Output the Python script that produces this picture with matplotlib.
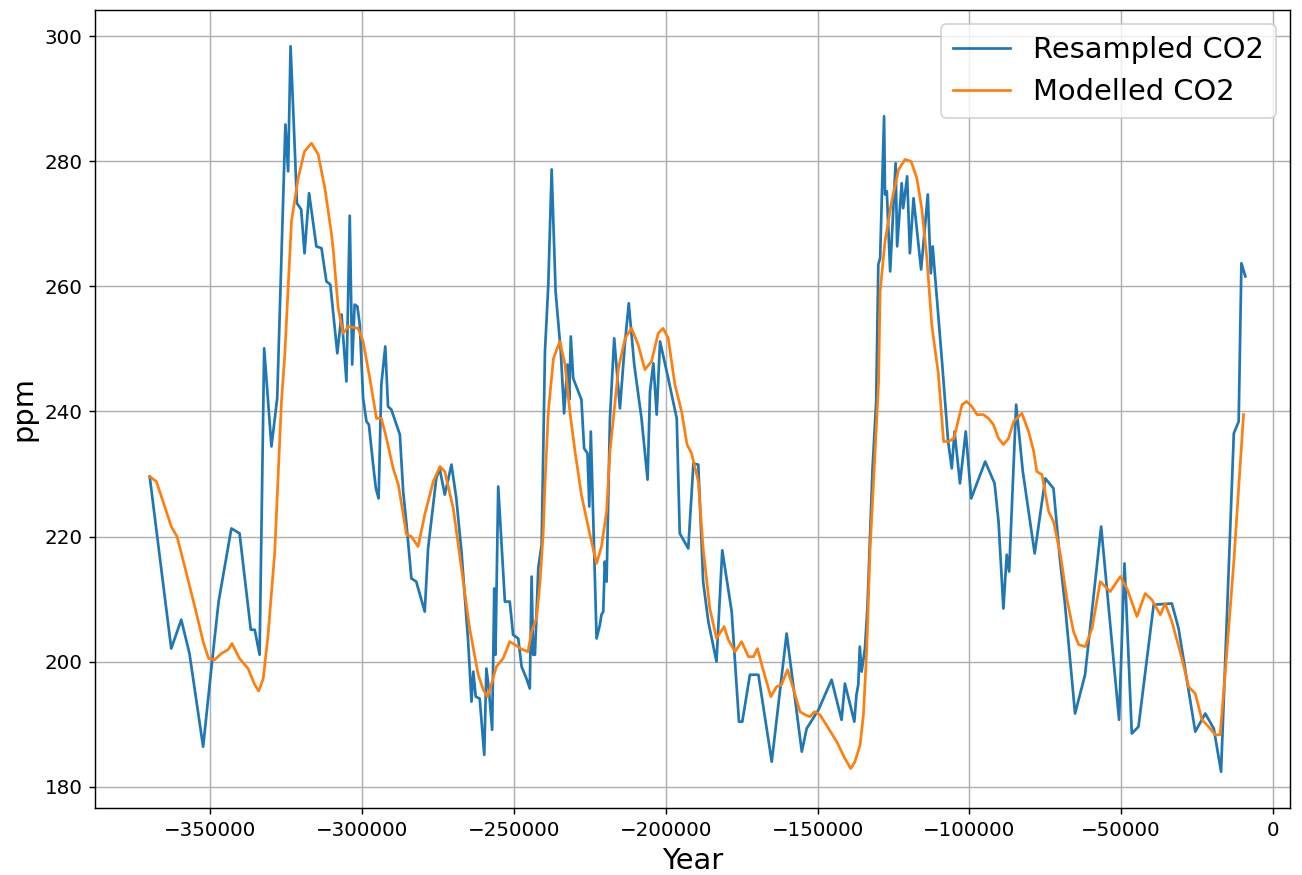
import matplotlib
matplotlib.use("Agg")
import matplotlib.pyplot as plt

# Resampled CO2 (ice core), (year, ppm) pairs.
resampled = [
    (-370000, 229.6), (-362900, 202.1), (-359600, 206.7), (-356900, 201.3), (-352400, 186.4),
    (-349700, 198.9), (-347300, 209.6), (-343100, 221.3), (-340400, 220.5), (-336700, 205.1),
    (-335400, 205.1), (-333800, 201.1), (-332300, 250.1), (-329900, 234.4), (-328000, 242.1),
    (-325300, 285.9), (-324400, 278.4), (-323600, 298.4), (-322800, 289.1), (-321500, 273.3),
    (-320100, 272.3), (-319000, 265.3), (-317500, 274.9), (-315100, 266.4), (-313400, 266.1),
    (-311800, 260.8), (-310500, 260.3), (-308200, 249.3), (-306800, 255.5), (-305200, 244.8),
    (-304100, 271.3), (-303300, 247.5), (-302500, 257.1), (-301600, 256.8), (-300800, 253.9),
    (-299700, 242.1), (-298600, 238.4), (-297800, 237.9), (-296400, 231.5), (-295500, 227.7),
    (-294600, 226.1), (-293700, 244.3), (-292400, 250.4), (-291500, 240.8), (-290400, 240.3),
    (-288700, 237.9), (-287600, 236.3), (-286500, 227.2), (-285400, 221.9), (-283800, 213.3),
    (-282200, 212.8), (-279400, 208.0), (-278300, 218.1), (-275600, 229.3), (-274500, 230.9),
    (-272800, 226.7), (-270600, 231.5), (-269000, 226.1), (-267300, 217.6), (-265100, 203.2),
    (-264000, 193.6), (-263400, 198.4), (-262600, 194.4), (-261300, 194.1), (-259800, 185.1),
    (-259100, 198.9), (-258300, 195.7), (-257200, 189.1), (-256500, 211.7), (-256100, 201.1),
    (-255200, 228.0), (-253600, 214.4), (-253000, 209.6), (-251400, 209.6), (-250300, 204.3),
    (-248600, 203.7), (-247500, 199.2), (-245900, 197.3), (-244800, 195.7), (-244200, 213.6),
    (-243700, 201.1), (-243100, 201.1), (-242000, 215.0), (-240900, 218.7), (-239800, 249.6),
    (-238700, 260.3), (-237600, 278.7), (-236300, 259.2), (-234600, 249.6), (-233500, 239.7),
    (-232400, 247.5), (-231800, 241.9), (-231300, 252.0), (-230500, 245.3), (-227800, 241.9),
    (-226900, 234.1), (-225800, 233.3), (-225200, 224.8), (-224700, 236.8), (-222800, 203.7),
    (-221700, 205.9), (-221200, 207.5), (-220600, 208.0), (-220100, 216.0), (-219500, 212.8),
    (-218400, 238.9), (-217000, 251.7), (-215100, 240.5), (-213500, 250.7), (-212200, 257.3),
    (-210400, 247.5), (-208000, 238.9), (-206000, 229.1), (-205200, 243.2), (-204100, 247.7),
    (-203000, 239.5), (-201900, 251.2), (-199200, 245.3), (-196400, 238.9), (-195400, 220.5),
    (-192600, 218.1), (-190900, 231.7), (-189300, 231.5), (-187700, 212.8), (-186000, 206.4),
    (-183300, 200.0), (-181400, 217.8), (-178300, 208.0), (-175900, 190.4), (-174800, 190.4),
    (-172300, 197.9), (-169500, 197.9), (-165100, 184.0), (-160200, 204.5), (-155200, 185.6),
    (-153600, 189.3), (-149700, 192.3), (-145400, 197.1), (-142100, 190.7), (-141000, 196.5),
    (-137900, 190.4), (-137200, 194.7), (-136600, 196.3), (-136100, 202.4), (-135500, 198.4),
    (-134400, 202.1), (-133600, 208.5), (-132700, 220.3), (-131900, 230.9), (-130700, 241.6),
    (-130000, 263.5), (-129400, 264.5), (-128100, 287.2), (-127800, 274.7), (-127200, 275.2),
    (-126100, 262.4), (-124300, 279.7), (-123800, 266.4), (-122300, 276.5), (-121800, 272.5),
    (-120500, 277.6), (-119600, 265.3), (-118400, 274.1), (-115900, 262.7), (-113700, 274.7),
    (-112700, 262.1), (-112100, 266.4), (-109100, 248.5), (-107000, 235.2), (-105800, 230.9),
    (-104900, 236.8), (-103100, 228.5), (-101200, 236.8), (-99400, 226.1), (-94800, 232.0),
    (-91700, 228.5), (-90400, 222.4), (-88800, 208.5), (-87700, 217.1), (-86900, 214.4),
    (-84600, 241.1), (-82400, 230.4), (-78500, 217.3), (-75000, 229.3), (-72300, 227.7),
    (-70200, 216.5), (-68500, 209.1), (-65200, 191.7), (-61900, 197.9), (-56600, 221.6),
    (-50700, 190.7), (-48900, 215.7), (-46500, 188.5), (-44300, 189.6), (-39300, 209.1),
    (-33300, 209.3), (-31100, 205.3), (-25600, 188.8), (-22300, 191.7), (-19500, 189.3),
    (-17100, 182.4), (-12900, 236.5), (-11300, 238.4), (-10400, 263.7), (-9100, 261.6),
]

# Modelled CO2
modelled = [
    (-370000, 229.6), (-367800, 228.8), (-365600, 225.6), (-362900, 221.6), (-361000, 220.0),
    (-358300, 214.9), (-355000, 208.5), (-352400, 203.2), (-350600, 200.5), (-348600, 200.3),
    (-346400, 201.3), (-344200, 201.9), (-342900, 202.9), (-340400, 200.5), (-337600, 198.9),
    (-335400, 196.3), (-334100, 195.3), (-332600, 197.3), (-331000, 204.3), (-328800, 217.6),
    (-326600, 241.6), (-325500, 249.1), (-324400, 259.7), (-323300, 270.4), (-321100, 277.3),
    (-319000, 281.6), (-316700, 282.9), (-314500, 281.1), (-312300, 275.7), (-310100, 268.3),
    (-309500, 265.6), (-307900, 256.5), (-306300, 252.5), (-304600, 253.6), (-301400, 253.3),
    (-299700, 251.2), (-297500, 245.3), (-295300, 238.9), (-293700, 238.9), (-292000, 235.7),
    (-289800, 230.9), (-288100, 228.3), (-285400, 220.3), (-283800, 220.0), (-281600, 218.4),
    (-279400, 223.5), (-276600, 228.8), (-274400, 231.2), (-272800, 230.4), (-270000, 224.5),
    (-267300, 214.9), (-264600, 205.3), (-261800, 197.9), (-260100, 195.5), (-258700, 194.4),
    (-257200, 196.8), (-255800, 199.2), (-253600, 200.5), (-251400, 203.2), (-249700, 202.7),
    (-247500, 202.0), (-245400, 201.6), (-244200, 204.8), (-242600, 206.9), (-241500, 212.3),
    (-240400, 220.3), (-239800, 228.3), (-238700, 240.0), (-237000, 248.5), (-234900, 251.2),
    (-233200, 247.5), (-231600, 240.0), (-229900, 233.6), (-228300, 228.3), (-227800, 226.7),
    (-225000, 220.3), (-222800, 215.7), (-221200, 218.4), (-219500, 224.0), (-218400, 233.6),
    (-217800, 236.3), (-215600, 246.9), (-213400, 251.7), (-211300, 253.3), (-209100, 250.7),
    (-206900, 246.7), (-204700, 248.0), (-202500, 252.5), (-200900, 253.3), (-199200, 251.7),
    (-197000, 244.3), (-194800, 240.0), (-193000, 234.7), (-191500, 233.3), (-189300, 228.8),
    (-187700, 218.1), (-185500, 208.5), (-183300, 203.7), (-180800, 205.6), (-179400, 203.5),
    (-177200, 201.6), (-175000, 203.2), (-172800, 200.8), (-171100, 200.8), (-169800, 202.1),
    (-168400, 199.5), (-165400, 194.4), (-163500, 196.0), (-161900, 196.3), (-159900, 198.7),
    (-158000, 195.7), (-155800, 192.0), (-154100, 191.5), (-152500, 191.2), (-151000, 192.0),
    (-149200, 191.5), (-146400, 189.3), (-143700, 187.2), (-141000, 184.5), (-139100, 182.9),
    (-137700, 184.0), (-136000, 186.7), (-134900, 191.5), (-133800, 202.1), (-132700, 218.1),
    (-131000, 234.1), (-129900, 244.8), (-129400, 259.2), (-127800, 267.2), (-125600, 273.6),
    (-123300, 278.7), (-121200, 280.3), (-119200, 280.0), (-117300, 277.3), (-115700, 272.5),
    (-114000, 264.5), (-112400, 253.9), (-110200, 245.9), (-108500, 235.2), (-106800, 235.2),
    (-105100, 235.7), (-103500, 238.9), (-102400, 241.1), (-100900, 241.6), (-99200, 240.8),
    (-97500, 239.5), (-95400, 239.5), (-93700, 238.9), (-92100, 237.9), (-90400, 235.7),
    (-88800, 234.7), (-87100, 235.7), (-85400, 238.4), (-82700, 239.7), (-80500, 236.8),
    (-78800, 233.6), (-77800, 230.4), (-76100, 229.9), (-73900, 224.0), (-72300, 222.4),
    (-70000, 217.1), (-67900, 210.1), (-65700, 204.8), (-64000, 202.7), (-61800, 202.4),
    (-59600, 205.3), (-56900, 212.8), (-53600, 211.2), (-50300, 213.6), (-48100, 211.7),
    (-44800, 207.2), (-42100, 210.9), (-39900, 209.9), (-37100, 207.5), (-35500, 209.3),
    (-33300, 206.4), (-30000, 200.5), (-27800, 196.0), (-25600, 194.9), (-23400, 190.7),
    (-21200, 189.6), (-19000, 188.3), (-17400, 188.3), (-15700, 198.4), (-12900, 216.0),
    (-9700, 239.5),
]

resampled_year = [p[0] for p in resampled]
resampled_ppm = [p[1] for p in resampled]
modelled_year = [p[0] for p in modelled]
modelled_ppm = [p[1] for p in modelled]

fig = plt.figure(figsize=(1302 / 130, 875 / 130), dpi=130)
ax = fig.add_axes([0.073, 0.0766, 0.918, 0.912])

ax.plot(resampled_year, resampled_ppm, label="Resampled CO2")
ax.plot(modelled_year, modelled_ppm, label="Modelled CO2")

ax.set_xlim(-388000, 5700)
ax.tick_params(labelsize=11)
ax.set_xlabel("Year", fontsize=16)
ax.set_ylabel("ppm", fontsize=16)
ax.grid()
ax.legend(fontsize=16, loc="upper right")

fig.savefig("out.png", dpi=130)
